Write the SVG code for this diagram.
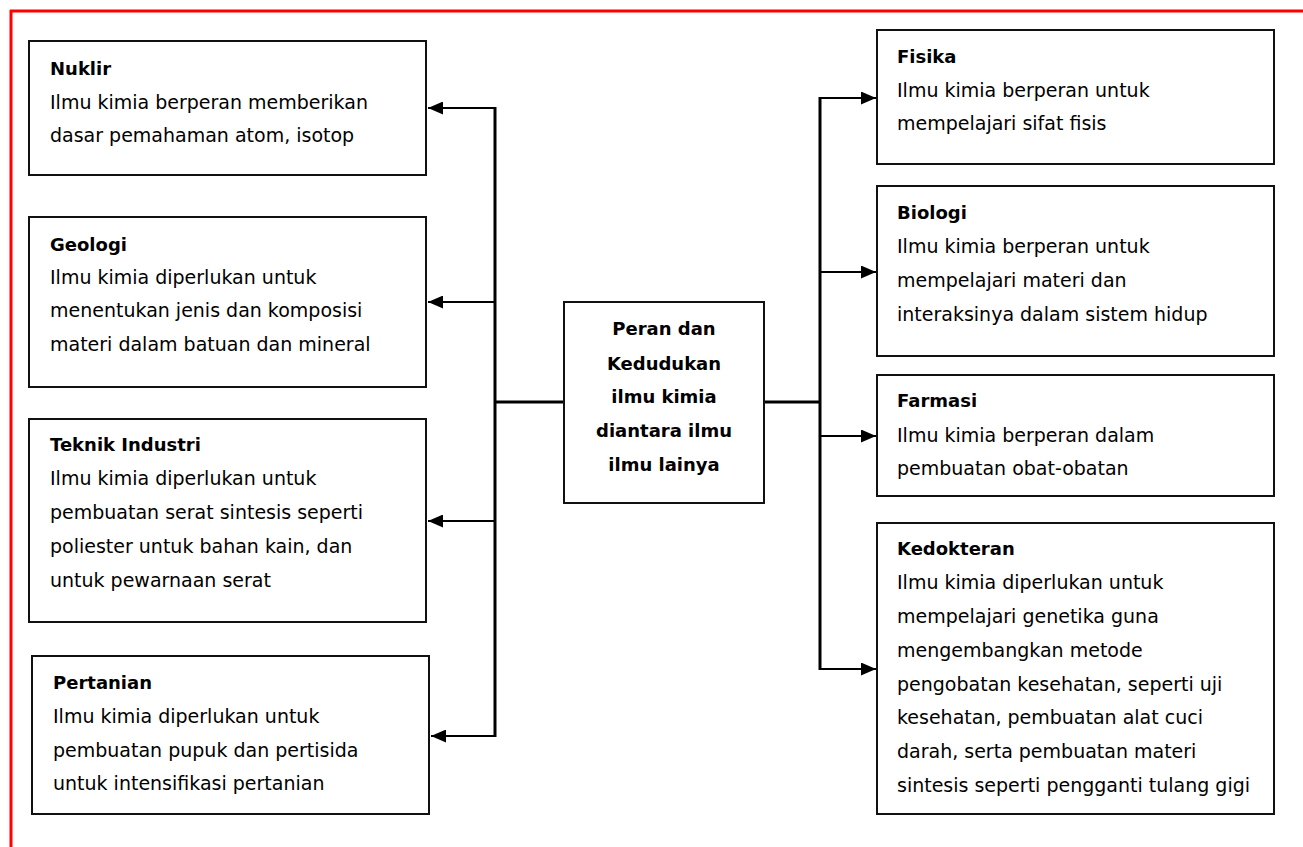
<svg xmlns="http://www.w3.org/2000/svg" width="1303" height="847" viewBox="0 0 1303 847">
<style>
.box{fill:#fff;stroke:#111;stroke-width:2}
.t{font-family:"DejaVu Sans","Liberation Sans",sans-serif;font-size:19px;fill:#000}
.h{font-family:"DejaVu Sans","Liberation Sans",sans-serif;font-size:18px;font-weight:bold;fill:#000}
.c{font-family:"DejaVu Sans","Liberation Sans",sans-serif;font-size:18px;font-weight:bold;fill:#000;text-anchor:middle}
.ln{stroke:#000;stroke-width:2;fill:none}
.tr{stroke:#000;stroke-width:3;fill:none}
</style>
<defs>
<marker id="ah" markerWidth="15" markerHeight="13" refX="15" refY="6.5" orient="auto" markerUnits="userSpaceOnUse">
<path d="M0,0 L15,6.5 L0,13 Z" fill="#000"/>
</marker>
</defs>
<rect width="1303" height="847" fill="#fff"/>
<g id="border">
<line x1="10" y1="11" x2="1303" y2="11" stroke="#ff0000" stroke-width="3"/>
<line x1="11" y1="10" x2="11" y2="847" stroke="#ff0000" stroke-width="3"/>
</g>
<g id="connectors">
<line class="tr" x1="495" y1="107" x2="495" y2="737"/>
<line class="tr" x1="495" y1="402" x2="564" y2="402"/>
<line class="tr" x1="764" y1="402" x2="820" y2="402"/>
<line class="tr" x1="820" y1="97" x2="820" y2="670"/>
<line class="ln" x1="495" y1="108" x2="428" y2="108" marker-end="url(#ah)"/>
<line class="ln" x1="495" y1="302" x2="428" y2="302" marker-end="url(#ah)"/>
<line class="ln" x1="495" y1="521" x2="428" y2="521" marker-end="url(#ah)"/>
<line class="ln" x1="495" y1="736" x2="431" y2="736" marker-end="url(#ah)"/>
<line class="ln" x1="820" y1="98" x2="876" y2="98" marker-end="url(#ah)"/>
<line class="ln" x1="820" y1="272" x2="876" y2="272" marker-end="url(#ah)"/>
<line class="ln" x1="820" y1="436" x2="876" y2="436" marker-end="url(#ah)"/>
<line class="ln" x1="820" y1="669" x2="876" y2="669" marker-end="url(#ah)"/>
</g>
<g id="center">
<rect class="box" x="564" y="302" width="200" height="201"/>
<text class="c" x="664" y="335">Peran dan</text>
<text class="c" x="664" y="370">Kedudukan</text>
<text class="c" x="664" y="403">ilmu kimia</text>
<text class="c" x="664" y="437">diantara ilmu</text>
<text class="c" x="664" y="471">ilmu lainya</text>
</g>
<g id="nuklir">
<rect class="box" x="29" y="41" width="397" height="134"/>
<text class="h" x="50" y="75">Nuklir</text>
<text class="t" x="50" y="109">Ilmu kimia berperan memberikan</text>
<text class="t" x="50" y="142">dasar pemahaman atom, isotop</text>
</g>
<g id="geologi">
<rect class="box" x="29" y="217" width="397" height="170"/>
<text class="h" x="50" y="251">Geologi</text>
<text class="t" x="50" y="284">Ilmu kimia diperlukan untuk</text>
<text class="t" x="50" y="317">menentukan jenis dan komposisi</text>
<text class="t" x="50" y="351">materi dalam batuan dan mineral</text>
</g>
<g id="teknik">
<rect class="box" x="29" y="419" width="397" height="203"/>
<text class="h" x="50" y="451">Teknik Industri</text>
<text class="t" x="50" y="485">Ilmu kimia diperlukan untuk</text>
<text class="t" x="50" y="519">pembuatan serat sintesis seperti</text>
<text class="t" x="50" y="553">poliester untuk bahan kain, dan</text>
<text class="t" x="50" y="587">untuk pewarnaan serat</text>
</g>
<g id="pertanian">
<rect class="box" x="32" y="656" width="397" height="158"/>
<text class="h" x="53" y="689">Pertanian</text>
<text class="t" x="53" y="723">Ilmu kimia diperlukan untuk</text>
<text class="t" x="53" y="757">pembuatan pupuk dan pertisida</text>
<text class="t" x="53" y="790">untuk intensifikasi pertanian</text>
</g>
<g id="fisika">
<rect class="box" x="877" y="30" width="397" height="134"/>
<text class="h" x="897" y="63">Fisika</text>
<text class="t" x="897" y="97">Ilmu kimia berperan untuk</text>
<text class="t" x="897" y="130">mempelajari sifat fisis</text>
</g>
<g id="biologi">
<rect class="box" x="877" y="186" width="397" height="170"/>
<text class="h" x="897" y="219">Biologi</text>
<text class="t" x="897" y="253">Ilmu kimia berperan untuk</text>
<text class="t" x="897" y="287">mempelajari materi dan</text>
<text class="t" x="897" y="321">interaksinya dalam sistem hidup</text>
</g>
<g id="farmasi">
<rect class="box" x="877" y="375" width="397" height="121"/>
<text class="h" x="897" y="407">Farmasi</text>
<text class="t" x="897" y="442">Ilmu kimia berperan dalam</text>
<text class="t" x="897" y="475">pembuatan obat-obatan</text>
</g>
<g id="kedokteran">
<rect class="box" x="877" y="523" width="397" height="291"/>
<text class="h" x="897" y="555">Kedokteran</text>
<text class="t" x="897" y="589">Ilmu kimia diperlukan untuk</text>
<text class="t" x="897" y="623">mempelajari genetika guna</text>
<text class="t" x="897" y="657">mengembangkan metode</text>
<text class="t" x="897" y="691">pengobatan kesehatan, seperti uji</text>
<text class="t" x="897" y="724">kesehatan, pembuatan alat cuci</text>
<text class="t" x="897" y="758">darah, serta pembuatan materi</text>
<text class="t" x="897" y="792">sintesis seperti pengganti tulang gigi</text>
</g>
</svg>
